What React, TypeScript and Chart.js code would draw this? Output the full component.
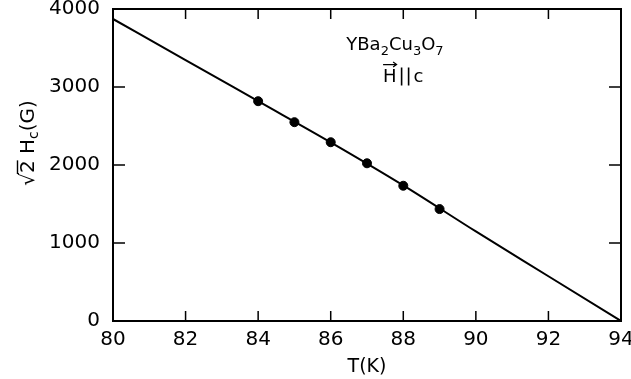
import React, { useEffect, useRef } from "react";
import { Chart, registerables } from "chart.js";

Chart.register(...registerables);

// Measured data points (T in K, sqrt(2) Hc in G)
const temperatures = [84, 85, 86, 87, 88, 89];
const fieldValues = [2818, 2549, 2292, 2022, 1734, 1435];

// Fitted curve through the data, extrapolated to Tc
const fitTemps = [80, 82, 84, 86, 88, 90, 92, 94];
const fitValues = [3872, 3346, 2818, 2290, 1738, 1148, 574, 0];

const xTickLabels = [80, 82, 84, 86, 88, 90, 92, 94];
const yTickLabels = [0, 1000, 2000, 3000, 4000];

const FONT = "'DejaVu Sans', sans-serif";

const framePlugin = {
  id: "framePlugin",
  afterDraw(chart: any) {
    const { ctx, chartArea, scales } = chart;
    const { left, right, top, bottom } = chartArea;
    const x = scales.x;
    const y = scales.y;
    ctx.save();
    ctx.strokeStyle = "#000";
    ctx.lineWidth = 2;
    ctx.strokeRect(left, top, right - left, bottom - top);
    ctx.lineWidth = 1.5;
    ctx.beginPath();
    x.ticks.forEach((t: any) => {
      const px = x.getPixelForValue(t.value);
      ctx.moveTo(px, bottom);
      ctx.lineTo(px, bottom - 10);
      ctx.moveTo(px, top);
      ctx.lineTo(px, top + 10);
    });
    y.ticks.forEach((t: any) => {
      const py = y.getPixelForValue(t.value);
      ctx.moveTo(left, py);
      ctx.lineTo(left + 12, py);
      ctx.moveTo(right, py);
      ctx.lineTo(right - 12, py);
    });
    ctx.stroke();

    ctx.fillStyle = "#000";
    ctx.textBaseline = "alphabetic";

    // Y axis title: sqrt(2) H_c (G), rotated
    ctx.save();
    ctx.translate(34, 143);
    ctx.rotate(-Math.PI / 2);
    const big = `20px ${FONT}`;
    const small = `14px ${FONT}`;
    const parts = [
      { t: "\u221A", f: big, dy: 0 },
      { t: "2", f: big, dy: 0, bar: true },
      { t: " H", f: big, dy: 0 },
      { t: "c", f: small, dy: 4 },
      { t: "(G)", f: big, dy: 0 },
    ];
    let total = 0;
    parts.forEach((p) => {
      ctx.font = p.f;
      total += ctx.measureText(p.t).width;
    });
    let cx = -total / 2;
    parts.forEach((p: any) => {
      ctx.font = p.f;
      const w = ctx.measureText(p.t).width;
      ctx.fillText(p.t, cx, p.dy);
      if (p.bar) {
        ctx.beginPath();
        ctx.lineWidth = 1.4;
        ctx.moveTo(cx - 1, -16.5);
        ctx.lineTo(cx + w, -16.5);
        ctx.stroke();
      }
      cx += w;
    });
    ctx.restore();

    // Annotation: YBa2Cu3O7
    const ax = x.getPixelForValue(87.77);
    const ay = y.getPixelForValue(3477);
    const annBig = `18px ${FONT}`;
    const annSmall = `13px ${FONT}`;
    const formula = [
      { t: "YBa", sub: false },
      { t: "2", sub: true },
      { t: "Cu", sub: false },
      { t: "3", sub: true },
      { t: "O", sub: false },
      { t: "7", sub: true },
    ];
    let fw = 0;
    formula.forEach((p) => {
      ctx.font = p.sub ? annSmall : annBig;
      fw += ctx.measureText(p.t).width;
    });
    let fx = ax - fw / 2;
    formula.forEach((p) => {
      ctx.font = p.sub ? annSmall : annBig;
      ctx.fillText(p.t, fx, ay + (p.sub ? 5 : 0));
      fx += ctx.measureText(p.t).width;
    });

    // Annotation: H-vector || c
    const bx = x.getPixelForValue(88.0);
    const by = y.getPixelForValue(3070);
    ctx.font = annBig;
    const hW = ctx.measureText("H").width;
    const cW = ctx.measureText("c").width;
    const gap = 4;
    const barsW = 9;
    const tw = hW + gap + barsW + gap + cW;
    let hx = bx - tw / 2;
    ctx.fillText("H", hx, by);
    // arrow over H
    ctx.beginPath();
    ctx.lineWidth = 1.2;
    ctx.moveTo(hx, by - 17);
    ctx.lineTo(hx + hW, by - 17);
    ctx.moveTo(hx + hW - 3.5, by - 19.5);
    ctx.lineTo(hx + hW, by - 17);
    ctx.lineTo(hx + hW - 3.5, by - 14.5);
    ctx.stroke();
    hx += hW + gap;
    ctx.beginPath();
    ctx.lineWidth = 1.6;
    ctx.moveTo(hx + 1, by - 14);
    ctx.lineTo(hx + 1, by + 4);
    ctx.moveTo(hx + barsW - 1, by - 14);
    ctx.lineTo(hx + barsW - 1, by + 4);
    ctx.stroke();
    hx += barsW + gap;
    ctx.fillText("c", hx, by);

    ctx.restore();
  },
};

export default function App() {
  const canvasRef = useRef<HTMLCanvasElement | null>(null);

  useEffect(() => {
    document.body.style.margin = "0";
    const canvas = canvasRef.current;
    if (!canvas) return;
    const chart = new Chart(canvas, {
      type: "scatter",
      data: {
        datasets: [
          {
            label: "fit",
            data: fitTemps.map((t, i) => ({ x: t, y: fitValues[i] })),
            showLine: true,
            borderColor: "#000",
            borderWidth: 2,
            pointRadius: 0,
            cubicInterpolationMode: "monotone",
            fill: false,
          } as any,
          {
            label: "data",
            data: temperatures.map((t, i) => ({ x: t, y: fieldValues[i] })),
            showLine: false,
            backgroundColor: "#000",
            borderColor: "#000",
            pointRadius: 4.5,
            pointStyle: "circle",
          },
        ],
      },
      options: {
        animation: false,
        responsive: true,
        maintainAspectRatio: false,
        layout: { padding: { top: 9, right: 10, left: 0, bottom: 0 } },
        plugins: {
          legend: { display: false },
          tooltip: { enabled: false },
        },
        scales: {
          x: {
            type: "linear",
            min: xTickLabels[0],
            max: xTickLabels[xTickLabels.length - 1],
            afterBuildTicks: (scale: any) => {
              scale.ticks = xTickLabels.map((v) => ({ value: v }));
            },
            afterFit: (scale: any) => {
              scale.height = 58;
              scale.paddingLeft = 0;
              scale.paddingRight = 0;
            },
            border: { display: false },
            grid: { display: false, drawTicks: false },
            ticks: {
              color: "#000",
              font: { family: FONT, size: 20, lineHeight: 1 },
              padding: 9,
              maxRotation: 0,
              autoSkip: false,
              callback: (v: any) => String(v),
            },
            title: {
              display: true,
              text: "T(K)",
              color: "#000",
              font: { family: FONT, size: 19 },
              padding: { top: 4, bottom: 1 },
            },
          },
          y: {
            type: "linear",
            min: yTickLabels[0],
            max: yTickLabels[yTickLabels.length - 1],
            afterBuildTicks: (scale: any) => {
              scale.ticks = yTickLabels.map((v) => ({ value: v }));
            },
            afterFit: (scale: any) => {
              scale.width = 113;
              scale.paddingTop = 0;
              scale.paddingBottom = 0;
            },
            border: { display: false },
            grid: { display: false, drawTicks: false },
            ticks: {
              color: "#000",
              font: { family: FONT, size: 20, lineHeight: 1 },
              padding: 13,
              autoSkip: false,
              callback: (v: any) => String(v),
            },
          },
        },
      },
      plugins: [framePlugin],
    });
    return () => chart.destroy();
  }, []);

  return (
    <div style={{ width: 631, height: 379, position: "relative", background: "#fff" }}>
      <canvas ref={canvasRef} />
    </div>
  );
}
